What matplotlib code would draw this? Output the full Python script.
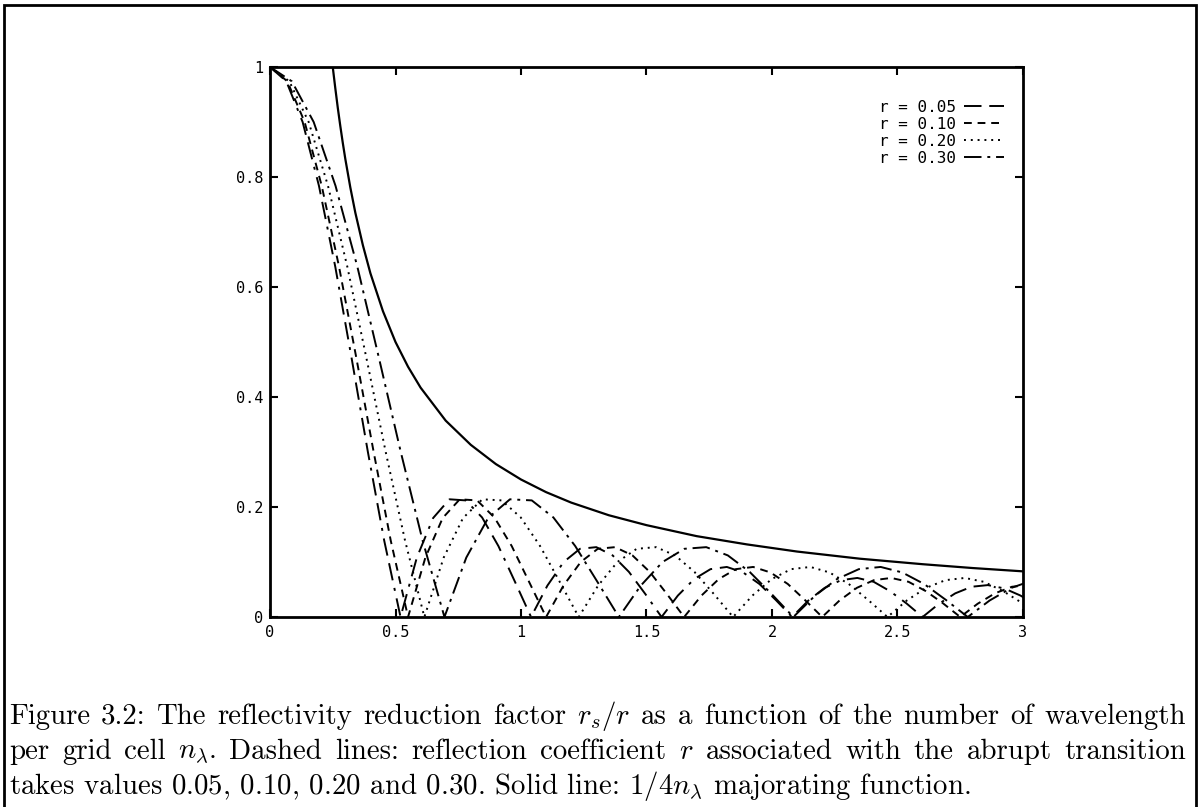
import matplotlib
matplotlib.use("Agg")
import matplotlib.pyplot as plt
from matplotlib.patches import Rectangle

# r_s/r curves (n_lambda, value)
x_r05 = [0, 0.065, 0.13, 0.195, 0.26, 0.325, 0.39, 0.455, 0.52,
         0.585, 0.65, 0.715, 0.78, 0.845, 0.91, 0.975, 1.04,
         1.105, 1.17, 1.235, 1.30, 1.365, 1.43, 1.495, 1.56,
         1.625, 1.69, 1.755, 1.82, 1.885, 1.95, 2.015, 2.08,
         2.145, 2.21, 2.275, 2.34, 2.405, 2.47, 2.535, 2.60,
         2.665, 2.73, 2.795, 2.86, 2.925, 2.99, 3.055]
y_r05 = [1, 0.974, 0.900, 0.784, 0.637, 0.471, 0.300, 0.139, 0,
         0.108, 0.180, 0.214, 0.212, 0.181, 0.129, 0.065, 0,
         0.057, 0.100, 0.124, 0.127, 0.112, 0.082, 0.042, 0,
         0.039, 0.069, 0.087, 0.091, 0.081, 0.060, 0.031, 0,
         0.030, 0.053, 0.067, 0.071, 0.064, 0.047, 0.025, 0,
         0.024, 0.043, 0.055, 0.058, 0.052, 0.039, 0.021]

x_r10 = [0, 0.069, 0.138, 0.206, 0.275, 0.344, 0.413, 0.481, 0.55,
         0.619, 0.688, 0.756, 0.825, 0.894, 0.963, 1.031, 1.10,
         1.169, 1.238, 1.306, 1.375, 1.444, 1.513, 1.581, 1.65,
         1.719, 1.788, 1.856, 1.925, 1.994, 2.063, 2.131, 2.20,
         2.269, 2.338, 2.406, 2.475, 2.544, 2.613, 2.681, 2.75,
         2.819, 2.888, 2.956, 3.025]
y_r10 = [1, 0.974, 0.900, 0.784, 0.637, 0.471, 0.300, 0.139, 0,
         0.108, 0.180, 0.214, 0.212, 0.181, 0.129, 0.065, 0,
         0.057, 0.100, 0.124, 0.127, 0.112, 0.082, 0.042, 0,
         0.039, 0.069, 0.087, 0.091, 0.081, 0.060, 0.031, 0,
         0.030, 0.053, 0.067, 0.071, 0.064, 0.047, 0.025, 0,
         0.024, 0.043, 0.055, 0.058]

x_r20 = [0, 0.077, 0.154, 0.231, 0.308, 0.384, 0.461, 0.538, 0.615,
         0.692, 0.769, 0.846, 0.923, 0.999, 1.076, 1.153, 1.23,
         1.307, 1.384, 1.461, 1.538, 1.614, 1.691, 1.768, 1.845,
         1.922, 1.999, 2.076, 2.153, 2.229, 2.306, 2.383, 2.46,
         2.537, 2.614, 2.691, 2.768, 2.844, 2.921, 2.998, 3.075]
y_r20 = [1, 0.974, 0.900, 0.784, 0.637, 0.471, 0.300, 0.139, 0,
         0.108, 0.180, 0.214, 0.212, 0.181, 0.129, 0.065, 0,
         0.057, 0.100, 0.124, 0.127, 0.112, 0.082, 0.042, 0,
         0.039, 0.069, 0.087, 0.091, 0.081, 0.060, 0.031, 0,
         0.030, 0.053, 0.067, 0.071, 0.064, 0.047, 0.025, 0]

x_r30 = [0, 0.087, 0.174, 0.261, 0.348, 0.434, 0.521, 0.608, 0.695,
         0.782, 0.869, 0.956, 1.043, 1.129, 1.216, 1.303, 1.39,
         1.477, 1.564, 1.651, 1.738, 1.824, 1.911, 1.998, 2.085,
         2.172, 2.259, 2.346, 2.433, 2.519, 2.606, 2.693, 2.78,
         2.867, 2.954, 3.041]
y_r30 = [1, 0.974, 0.900, 0.784, 0.637, 0.471, 0.300, 0.139, 0,
         0.108, 0.180, 0.214, 0.212, 0.181, 0.129, 0.065, 0,
         0.057, 0.100, 0.124, 0.127, 0.112, 0.082, 0.042, 0,
         0.039, 0.069, 0.087, 0.091, 0.081, 0.060, 0.031, 0,
         0.030, 0.053, 0.067]

# solid majorating line 1/4n
x_major = [0.25, 0.26, 0.27, 0.28, 0.29, 0.30, 0.32, 0.34, 0.37, 0.40,
           0.45, 0.50, 0.55, 0.60, 0.70, 0.80, 0.90, 1.00, 1.10, 1.20,
           1.35, 1.50, 1.70, 1.90, 2.10, 2.35, 2.60, 2.80, 3.00]
y_major = [1.000, 0.962, 0.926, 0.893, 0.862, 0.833, 0.781, 0.735, 0.676, 0.625,
           0.556, 0.500, 0.455, 0.417, 0.357, 0.313, 0.278, 0.250, 0.227, 0.208,
           0.185, 0.167, 0.147, 0.132, 0.119, 0.106, 0.096, 0.089, 0.083]

labels = ["r = 0.05", "r = 0.10", "r = 0.20", "r = 0.30"]
x_ticks = [0, 0.5, 1, 1.5, 2, 2.5, 3]
x_ticklabels = ["0", "0.5", "1", "1.5", "2", "2.5", "3"]
y_ticks = [0, 0.2, 0.4, 0.6, 0.8, 1]
y_ticklabels = ["0", "0.2", "0.4", "0.6", "0.8", "1"]

caption_lines = [
    r"Figure 3.2: The reflectivity reduction factor $r_s/r$ as a function of the number of wavelength",
    r"per grid cell $n_\lambda$. Dashed lines: reflection coefficient $r$ associated with the abrupt transition",
    r"takes values 0.05, 0.10, 0.20 and 0.30. Solid line: $1/4n_\lambda$ majorating function.",
]

plt.rcParams["mathtext.fontset"] = "cm"

fig = plt.figure(figsize=(12, 8.07), dpi=100)
ax = fig.add_axes([270 / 1200, 1 - 617 / 807, 753 / 1200, 550 / 807])

styles = [(0, (9, 4, 9, 4, 1.5, 4)), (0, (4, 3)), (0, (1, 2.5)), (0, (9, 3, 1.5, 3))]
series = [(x_r05, y_r05), (x_r10, y_r10), (x_r20, y_r20), (x_r30, y_r30)]
for (xs, ys), ls, lab in zip(series, styles, labels):
    ax.plot(xs, ys, color="black", lw=1.4, linestyle=ls, label=lab)
ax.plot(x_major, y_major, color="black", lw=1.6)

ax.set_xlim(0, 3)
ax.set_ylim(0, 1)
ax.set_xticks(x_ticks)
ax.set_xticklabels(x_ticklabels)
ax.set_yticks(y_ticks)
ax.set_yticklabels(y_ticklabels)
mono = "DejaVu Sans Mono"
ax.tick_params(direction="in", length=6, width=1.5, top=True, right=True,
               labelsize=11)
ax.tick_params(axis="x", pad=6)
ax.tick_params(axis="y", pad=5)
for t in ax.get_xticklabels() + ax.get_yticklabels():
    t.set_family(mono)
for s in ax.spines.values():
    s.set_linewidth(2)

leg = ax.legend(loc="upper right", bbox_to_anchor=(0.975, 0.94), frameon=False,
                markerfirst=False, handlelength=2.5, handletextpad=0.5,
                labelspacing=0.12, borderpad=0, borderaxespad=0,
                prop={"family": mono, "size": 11.5})

# caption: size fitted to the first line, first two lines justified
renderer = fig.canvas.get_renderer()
x0, x1 = 9 / 1200, 1186 / 1200
ys_cap = [1 - 724 / 807, 1 - 759 / 807, 1 - 794 / 807]
probe = fig.text(0, 0, caption_lines[0], family="cmr10", fontsize=20)
w_probe = probe.get_window_extent(renderer).width / fig.bbox.width
probe.remove()
fs = 20 * (x1 - x0) / w_probe * 0.985

for i, (line, yc) in enumerate(zip(caption_lines, ys_cap)):
    if i == 2:
        fig.text(x0, yc, line, family="cmr10", fontsize=fs, va="baseline", ha="left")
        continue
    merged = []
    for w in line.split(" "):
        if merged and merged[-1].count("$") % 2 == 1:
            merged[-1] += " " + w
        else:
            merged.append(w)
    texts = [fig.text(0, yc, w, family="cmr10", fontsize=fs, va="baseline", ha="left")
             for w in merged]
    widths = [t.get_window_extent(renderer).width / fig.bbox.width for t in texts]
    gap = (x1 - x0 - sum(widths)) / (len(texts) - 1)
    xp = x0
    for t, w in zip(texts, widths):
        t.set_x(xp)
        xp += w + gap

fig.patches.append(Rectangle((4 / 1200, -0.02), 1192 / 1200, 1.0 - 5 / 807 + 0.02,
                             transform=fig.transFigure, fill=False, lw=2,
                             edgecolor="black"))

fig.savefig("out.png", dpi=100, facecolor="white")
